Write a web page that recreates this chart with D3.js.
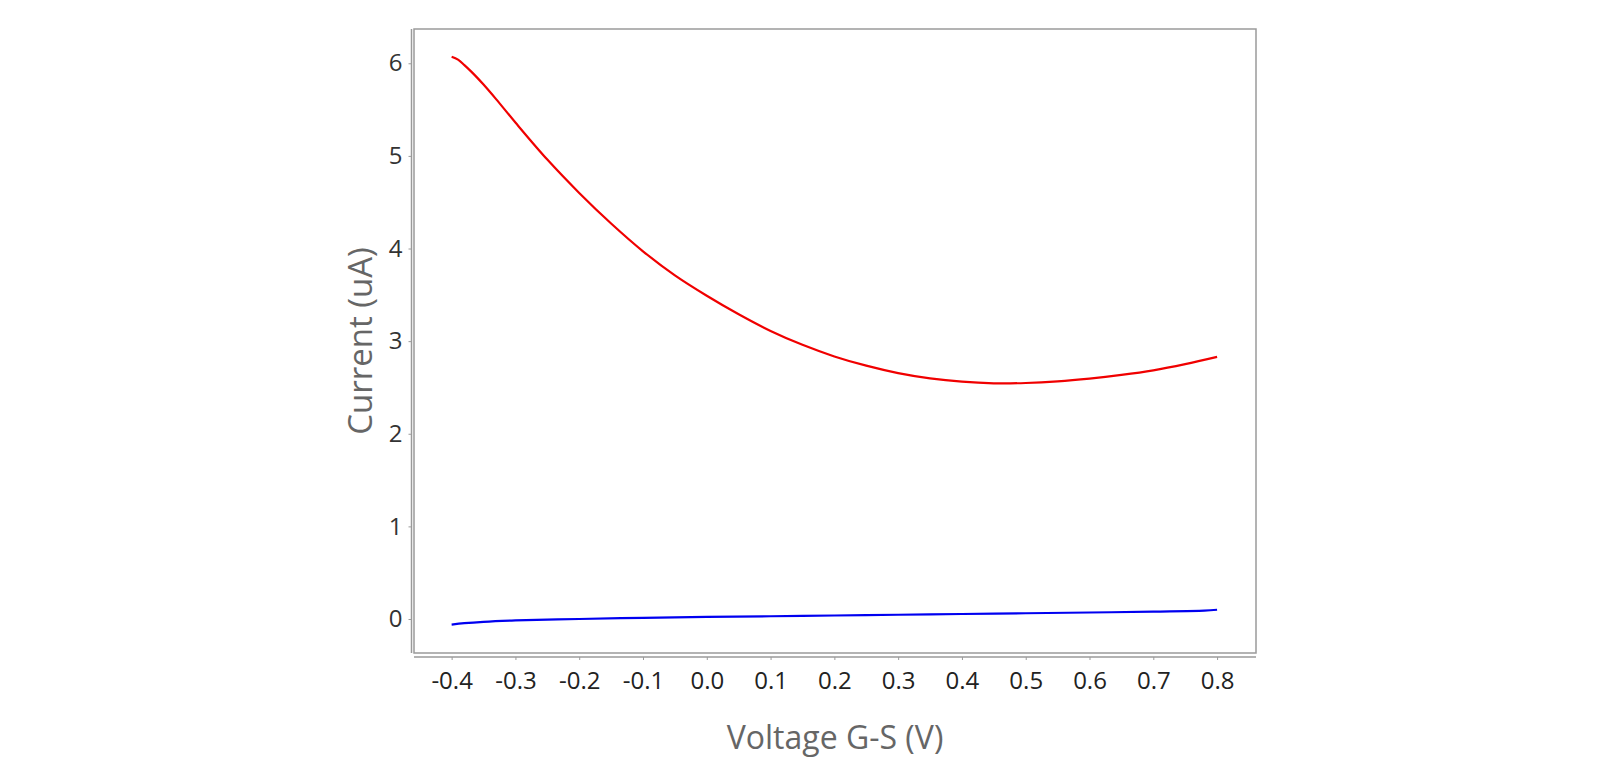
<!DOCTYPE html>
<html>
<head>
<meta charset="utf-8">
<script src="https://cdn.jsdelivr.net/npm/d3@7"></script>
<style>
  body{margin:0;background:#fff;}
  text{font-family:"Open Sans","Noto Sans",sans-serif;}
</style>
</head>
<body>
<svg id="chart" width="1600" height="773"></svg>
<script>
// red curve (upper) and blue curve (lower)
var redX = [-0.40,-0.39,-0.38,-0.37,-0.36,-0.35,-0.33,-0.30,-0.25,-0.20,-0.15,-0.10,-0.05,0.00,0.05,0.10,0.15,0.20,0.25,0.30,0.35,0.40,0.45,0.50,0.55,0.60,0.65,0.70,0.75,0.80];
var redY = [6.07,6.04,5.98,5.915,5.845,5.77,5.61,5.36,4.96,4.60,4.27,3.97,3.71,3.49,3.29,3.11,2.96,2.835,2.735,2.655,2.598,2.562,2.545,2.548,2.565,2.595,2.635,2.685,2.752,2.83];
var blueX = [-0.40,-0.38,-0.35,-0.30,-0.25,-0.20,-0.10,0.00,0.10,0.20,0.30,0.40,0.50,0.60,0.70,0.78,0.80];
var blueY = [-0.06,-0.045,-0.03,-0.015,-0.006,0.0,0.013,0.022,0.030,0.038,0.046,0.054,0.062,0.070,0.080,0.090,0.100];
var xTicks = [-0.4,-0.3,-0.2,-0.1,0.0,0.1,0.2,0.3,0.4,0.5,0.6,0.7,0.8];
var yTicks = [0,1,2,3,4,5,6];

var padL = 414, padR = 1256, padT = 29, padB = 653;

var svg = d3.select("#chart");
var x = d3.scaleLinear().domain([-0.459, 0.861]).range([padL, padR]);
var y = d3.scaleLinear().domain([-0.367, 6.37]).range([padB, padT]);

// plot frame
svg.append("rect").attr("x", padL).attr("y", padT)
   .attr("width", padR-padL).attr("height", padB-padT)
   .attr("fill", "none").attr("stroke", "#9a9a9a").attr("stroke-width", 1.5);

// y axis, offset a bit left of the frame
var yAxis = svg.append("g").attr("transform", "translate(411.5,0)")
   .call(d3.axisLeft(y).tickValues(yTicks).tickFormat(d3.format("d")).tickSize(3).tickPadding(6));
yAxis.select(".domain").attr("d", "M0," + padT + "V" + padB).attr("stroke", "#9a9a9a").attr("stroke-width", 1.5);
yAxis.selectAll(".tick line").attr("stroke", "#9a9a9a");
yAxis.selectAll(".tick text").attr("font-size", 24).attr("fill", "#333");

// x axis, offset a bit below the frame
var fmtX = function(d){ return d3.format(".1f")(d).replace("\u2212", "-"); };
var xAxis = svg.append("g").attr("transform", "translate(0,657)")
   .call(d3.axisBottom(x).tickValues(xTicks).tickFormat(fmtX).tickSize(3).tickPadding(12));
xAxis.select(".domain").attr("d", "M" + padL + ",0H" + padR).attr("stroke", "#9a9a9a").attr("stroke-width", 1.5);
xAxis.selectAll(".tick line").attr("stroke", "#9a9a9a");
xAxis.selectAll(".tick text").attr("font-size", 24).attr("fill", "#222");

var line = d3.line().x(function(d){ return x(d[0]); }).y(function(d){ return y(d[1]); }).curve(d3.curveCatmullRom.alpha(0.5));

svg.append("path").datum(d3.zip(redX, redY)).attr("d", line)
   .attr("fill", "none").attr("stroke", "#f00000").attr("stroke-width", 2.2);
svg.append("path").datum(d3.zip(blueX, blueY)).attr("d", line)
   .attr("fill", "none").attr("stroke", "#0000f0").attr("stroke-width", 2.2);

// axis titles
svg.append("text").attr("x", (padL+padR)/2).attr("y", 749)
   .attr("text-anchor", "middle").attr("font-size", 32).attr("fill", "#666")
   .text("Voltage G-S (V)");
svg.append("text").attr("transform", "translate(372," + ((padT+padB)/2) + ") rotate(-90)")
   .attr("text-anchor", "middle").attr("font-size", 33).attr("fill", "#666")
   .text("Current (uA)");
</script>
</body>
</html>
